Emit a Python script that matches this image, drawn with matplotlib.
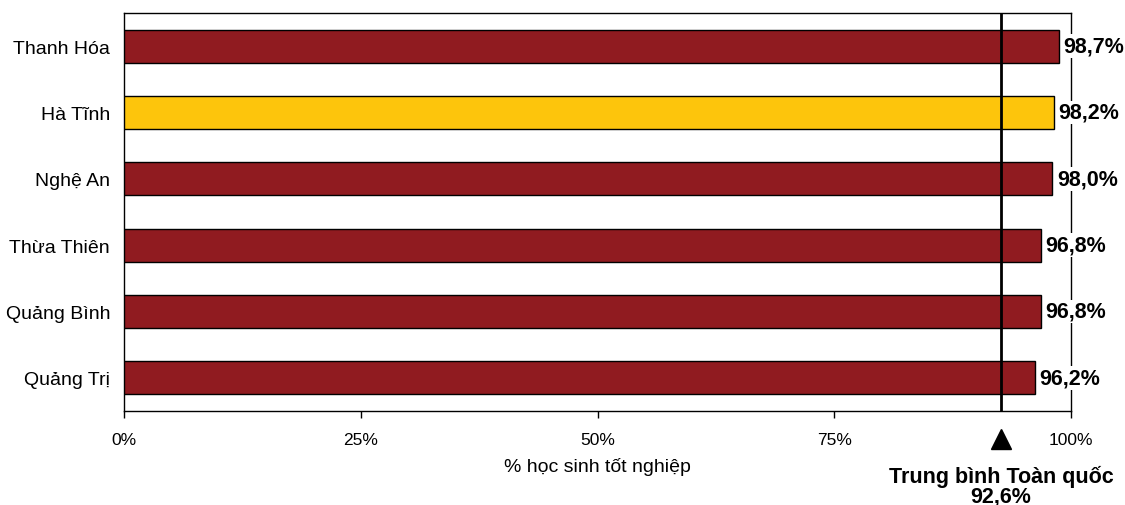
import matplotlib.pyplot as plt
from matplotlib.ticker import FuncFormatter

provinces = ["Thanh Hóa", "Hà Tĩnh", "Nghệ An", "Thừa Thiên", "Quảng Bình", "Quảng Trị"]
pass_rates = [98.7, 98.2, 98.0, 96.8, 96.8, 96.2]
highlight = "Hà Tĩnh"
national_avg = 92.6
xticks = [0, 25, 50, 75, 100]

plt.rcParams["font.family"] = ["Liberation Sans", "DejaVu Sans"]

red = "#901B20"
yellow = "#FDC50C"
colors = [yellow if p == highlight else red for p in provinces]

fig = plt.figure(figsize=(11.25, 5.06), dpi=100)
ax = fig.add_axes([124 / 1125, 1 - 412 / 506, 947 / 1125, 398 / 506])

ypos = list(range(len(provinces)))
ax.barh(ypos, pass_rates, height=0.5, color=colors, edgecolor="black", linewidth=1, zorder=2)

# value labels (white box hides the right spine behind them)
for y, v in zip(ypos, pass_rates):
    ax.text(
        v + 0.5,
        y,
        f"{v:.1f}%".replace(".", ","),
        va="center",
        ha="left",
        fontsize=15.5,
        fontweight="bold",
        bbox=dict(facecolor="white", edgecolor="none", pad=1),
        zorder=4,
    )

# National average line + marker below the axis
xtrans = ax.get_xaxis_transform()
ax.axvline(national_avg, color="black", linewidth=2, zorder=3)
ax.plot([national_avg], [-0.07], marker="^", markersize=15, color="black",
        transform=xtrans, clip_on=False)
ax.text(national_avg, -0.162, "Trung bình Toàn quốc", transform=xtrans,
        ha="center", va="center", fontsize=15.5, fontweight="bold")
ax.text(national_avg, -0.213, f"{national_avg:.1f}%".replace(".", ","), transform=xtrans,
        ha="center", va="center", fontsize=15.5, fontweight="bold")

ax.set_xlim(0, 100)
ax.set_ylim(len(provinces) - 0.5, -0.5)
ax.set_xticks(xticks)
ax.xaxis.set_major_formatter(FuncFormatter(lambda v, _: f"{v:.0f}%"))
ax.set_yticks(ypos)
ax.set_yticklabels(provinces)
ax.tick_params(axis="y", length=0, labelsize=14, pad=10)
ax.tick_params(axis="x", direction="out", length=5, width=1, labelsize=12.5, pad=10)
ax.set_xlabel("% học sinh tốt nghiệp", fontsize=14, labelpad=7)

for s in ax.spines.values():
    s.set_linewidth(1)
    s.set_zorder(1)

fig.savefig("out.png", dpi=100)
